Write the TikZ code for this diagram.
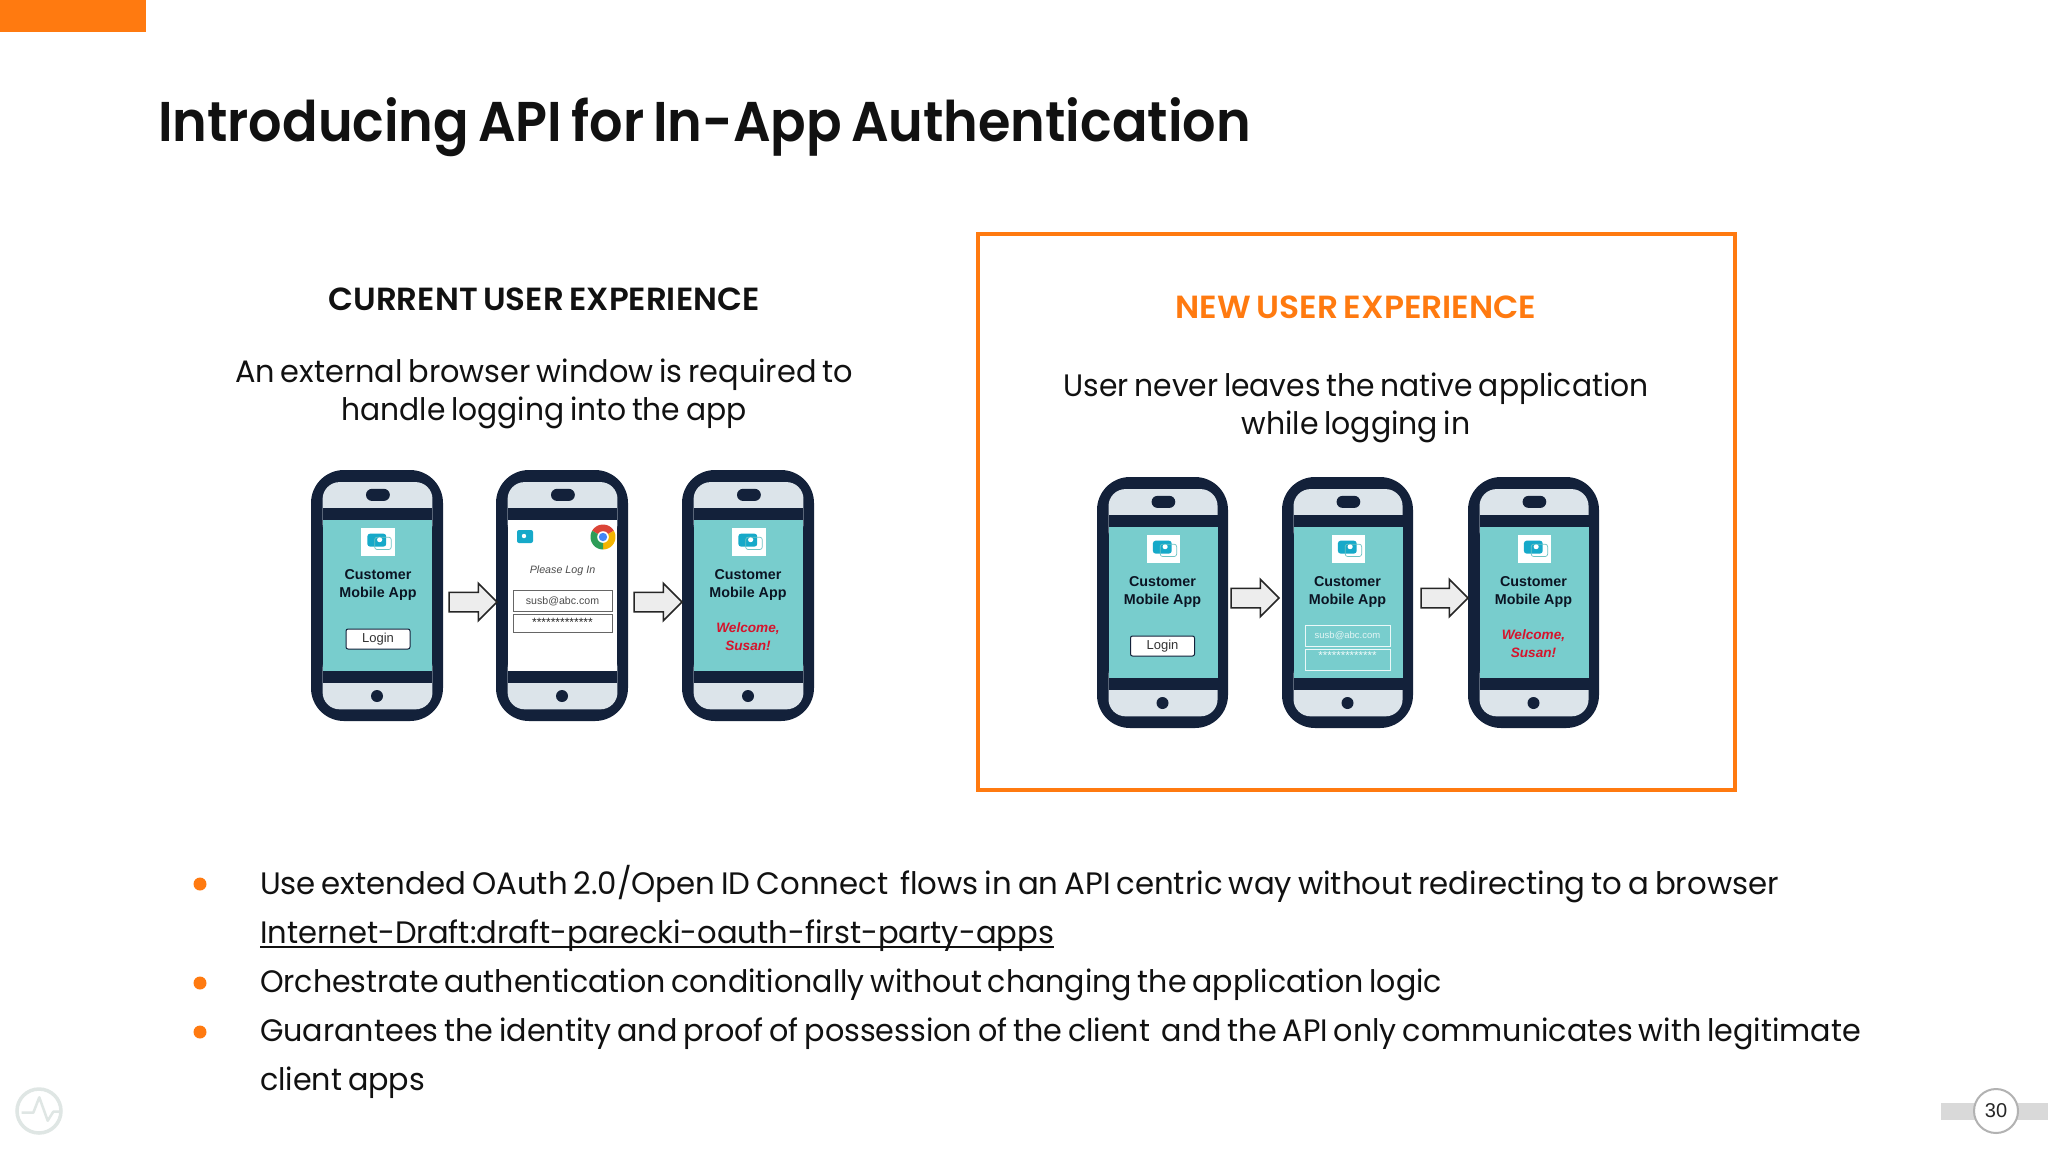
\documentclass[tikz,border=0pt]{standalone}
\usepackage{fontspec}
\usepackage{graphicx}
\usetikzlibrary{shapes.arrows}
\setmainfont{Poppins}[WordSpace=0.72]
\newfontfamily\phonefont{Liberation Sans}
\newfontfamily\semib{Poppins SemiBold}[WordSpace=0.72]
\definecolor{brandor}{HTML}{FF7A10}
\definecolor{inkc}{HTML}{111111}
\definecolor{navy}{HTML}{13213A}
\definecolor{lightp}{HTML}{DCE4EA}
\definecolor{tealA}{HTML}{78CDCD}
\definecolor{tealB}{HTML}{6DC3C4}
\definecolor{logoc}{HTML}{16A9C9}
\definecolor{logog}{HTML}{DFE6E4}
\definecolor{welc}{HTML}{D5142C}
\definecolor{chr}{HTML}{DB4437}
\definecolor{chy}{HTML}{F4B400}
\definecolor{chg}{HTML}{2E9D58}
\definecolor{chb}{HTML}{4285F4}
\newsavebox\fitbox
\newcommand\fitw[2]{\sbox\fitbox{#2}\pgfmathsetmacro\fitr{#1/\wd\fitbox}\scalebox{\fitr}[1]{\usebox\fitbox}}
\newcommand\fsz[1]{\fontsize{#1}{#1}\selectfont}
\tikzset{
  txt/.style={inner sep=0pt,outer sep=0pt,anchor=base,text=inkc},
  txtw/.style={inner sep=0pt,outer sep=0pt,anchor=base west,text=inkc},
  shell/.style={fill=navy,draw=none,rounded corners=33,minimum height=251,inner sep=0,outer sep=0,anchor=north west},
  ptxt/.style={inner sep=0,outer sep=0,anchor=center,font=\phonefont\bfseries\fsz{14.3},text=navy!60!black},
  blockarr/.style={single arrow,draw=black!85,fill=black!7,line width=1.5,inner xsep=0,inner ysep=9,single arrow head extend=9,single arrow tip angle=90,single arrow head indent=0,outer sep=0,anchor=west},
  bullet/.style={circle,fill=brandor,minimum size=13,inner sep=0,outer sep=0,draw=none},
  inbox/.style={draw=black!60,line width=1,fill=white},
}
% phone frame: name, x, y, width, screen fill options
\newcommand\phone[5]{%
  \node[shell,minimum width=#4] (#1) at (#2,#3) {};
  \begin{scope}[shift={(#2,#3)},xscale=#4/121.7,yscale=251/249.3]
    \fill[lightp,rounded corners=17] (10.7,12) rectangle (112,70);
    \fill[lightp,rounded corners=17] (10.7,180) rectangle (112,237.7);
    \fill[navy] (10.7,37.7) rectangle (112,49.3);
    \fill[navy] (10.7,200) rectangle (112,212);
    \path[#5] (10.7,49.3) rectangle (112,200);
    \fill[navy,rounded corners=6] (50.7,18.7) rectangle (72.7,30.7);
    \fill[white] (46,57.7) rectangle (77.3,85.7);
  \end{scope}
  \fill[navy] (#2+#4/2,#3+226) circle[radius=6];}
\newcommand\applogo[3]{%
  \begin{scope}[shift={(#1,#2)},xscale=#3/121.7,yscale=251/249.3]
    \fill[logoc,rounded corners=2.5] (52,63.3) rectangle (69.3,76);
    \draw[tealB,line width=.7,rounded corners=2.5] (58.7,66.7) rectangle (74,79);
    \fill[white] (63.3,69.3) circle[radius=2.4];
  \end{scope}}
\newcommand\apptitle[3]{%
  \node[ptxt] (#1c) at (#2,#3+105) {Customer};
  \node[ptxt] (#1m) at (#2,#3+123.5) {Mobile App};}
\newcommand\welcome[3]{%
  \node[ptxt,text=welc,font=\phonefont\bfseries\itshape\fsz{13.6}] (#1w) at (#2,#3+158.5) {Welcome,};
  \node[ptxt,text=welc,font=\phonefont\bfseries\itshape\fsz{13.6}] (#1s) at (#2,#3+176) {Susan!};}
\newcommand\loginbtn[3]{%
  \node[draw=navy,line width=1,fill=white,rounded corners=2,minimum width=64,minimum height=20,inner sep=0,font=\phonefont\fsz{13},text=black!80] (#1l) at (#2,#3+169) {Login};}
\begin{document}
\begin{tikzpicture}[x=1pt,y=-1pt]
\useasboundingbox (0,0) rectangle (2048,1152);
\fill[white] (0,0) rectangle (2048,1152);
\fill[brandor] (0,0) rectangle (146,32);
\node[txtw,font=\semib\fsz{56}] (title) at (158,141) {\fitw{1093}{Introducing API for In-App Authentication}};
% left panel
\node[txt,font=\semib\fsz{32}] (curh) at (544,310.5) {\fitw{431}{CURRENT USER EXPERIENCE}};
\node[txt,font=\fsz{31}] (cur1) at (544,382.5) {\fitw{618}{An external browser window is required to}};
\node[txt,font=\fsz{31}] (cur2) at (544,420.5) {\fitw{405}{handle logging into the app}};
\phone{pa}{311}{470}{132}{fill=tealA}
\applogo{311}{470}{132}\apptitle{pa}{378}{470}\loginbtn{pa}{378}{470}
\phone{pb}{496}{470}{132}{fill=white}
\fill[white] (510,530) rectangle (612,570);
\fill[logoc,rounded corners=2] (517,530) rectangle (533,543);
\fill[white] (524,536) circle[radius=2.2];
\begin{scope}
  \fill[chr] (603,537) -- plot[domain=210:330,samples=14] ({603+12.5*cos(\x)},{537+12.5*sin(\x)}) -- cycle;
  \fill[chy] (603,537) -- plot[domain=-30:90,samples=14] ({603+12.5*cos(\x)},{537+12.5*sin(\x)}) -- cycle;
  \fill[chg] (603,537) -- plot[domain=90:210,samples=14] ({603+12.5*cos(\x)},{537+12.5*sin(\x)}) -- cycle;
  \fill[white] (603,537) circle[radius=5.8];
  \fill[chb] (603,537) circle[radius=4.2];
\end{scope}
\draw[inbox] (513,590) rectangle (612.5,611);
\draw[inbox] (513,614) rectangle (612.5,632);
\node[ptxt,font=\phonefont\itshape\fsz{10.7},text=black!70] (pblog) at (562.5,571) {Please Log In};
\node[ptxt,font=\phonefont\fsz{10.6},text=black!70] (pbmail) at (562.5,601) {susb@abc.com};
\node[ptxt,font=\phonefont\fsz{12},text=black!85] (pbpass) at (562.5,622) {*************};
\phone{pc}{682}{470}{132}{fill=tealA}
\applogo{682}{470}{132}\apptitle{pc}{748}{470}\welcome{pc}{748}{470}
\node[blockarr,minimum height=48] (a1) at (449,602) {};
\node[blockarr,minimum height=48] (a2) at (634,602) {};
% right panel
\draw[brandor,line width=4] (978,234) rectangle (1735,790);
\node[txt,text=brandor,font=\semib\fsz{32}] (newh) at (1356,318) {\fitw{361}{NEW USER EXPERIENCE}};
\node[txt,font=\fsz{31}] (new1) at (1356,396.5) {\fitw{585}{User never leaves the native application}};
\node[txt,font=\fsz{31}] (new2) at (1356,434.5) {\fitw{229}{while logging in}};
\phone{qa}{1097}{477}{131}{fill=tealA}
\applogo{1097}{477}{131}\apptitle{qa}{1162.5}{477}\loginbtn{qa}{1162.5}{477}
\phone{qb}{1282}{477}{131}{fill=tealA}
\applogo{1282}{477}{131}\apptitle{qb}{1347.5}{477}
\draw[white!85!tealA,line width=1] (1305,625.5) rectangle (1390,646.5);
\draw[white!85!tealA,line width=1] (1305,649) rectangle (1390,670);
\node[ptxt,font=\phonefont\fsz{9.5},text=white!80!tealA] (qbmail) at (1347.5,636) {susb@abc.com};
\node[ptxt,font=\phonefont\fsz{11.5},text=white!90!tealA] (qbpass) at (1347.5,656) {*************};
\phone{qc}{1468}{477}{131}{fill=tealA}
\applogo{1468}{477}{131}\apptitle{qc}{1533.5}{477}\welcome{qc}{1533.5}{477}
\node[blockarr,minimum height=48] (b1) at (1231,598) {};
\node[blockarr,minimum height=47] (b2) at (1421,598) {};
% bullets
\node[bullet] (d1) at (200,884) {};
\node[bullet] (d2) at (200,983) {};
\node[bullet] (d3) at (200,1032) {};
\node[txtw,font=\fsz{31}] (l1) at (260,894) {\fitw{1519}{Use extended OAuth 2.0/Open ID Connect\ \ flows in an API centric way without redirecting to a browser}};
\node[txtw,font=\fsz{31}] (l2) at (260,943) {\fitw{794}{Internet-Draft:draft-parecki-oauth-first-party-apps}};
\draw[inkc,line width=2] ([yshift=-3.5pt]l2.base west) -- ([yshift=-3.5pt]l2.base east);
\node[txtw,font=\fsz{31}] (l3) at (260,992) {\fitw{1182}{Orchestrate authentication conditionally without changing the application logic}};
\node[txtw,font=\fsz{31}] (l4) at (260,1041) {\fitw{1601}{Guarantees the identity and proof of possession of the client\ \ and the API only communicates with legitimate}};
\node[txtw,font=\fsz{31}] (l5) at (260,1090) {\fitw{165}{client apps}};
% footer
\draw[logog,line width=3.5] (39,1111) circle[radius=22];
\draw[logog,line width=2.5,line join=round] (21.7,1112.7) -- (33.3,1112.7) -- (39.3,1097.3) -- (47.7,1120.7) -- (53.3,1111.7) -- (59.3,1111.7);
\fill[black!15] (1941,1103) rectangle (2048,1120);
\node[circle,draw=black!30,line width=2,fill=white,minimum size=44,inner sep=0,font=\phonefont\fsz{20},text=black!85] (pg) at (1996,1111) {30};
\end{tikzpicture}
\end{document}
